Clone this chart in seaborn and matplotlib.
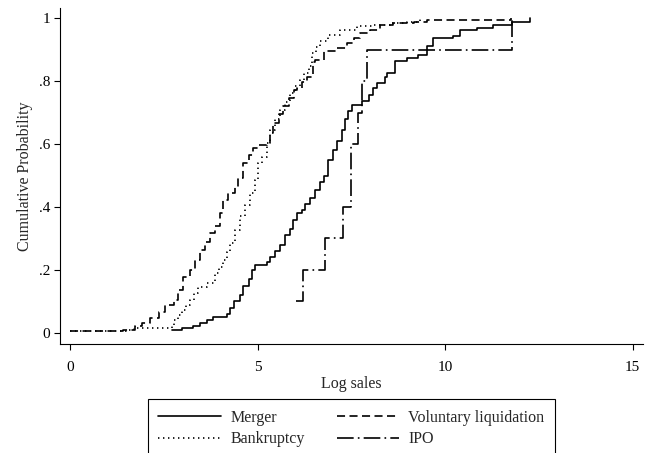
import numpy as np
import pandas as pd
import matplotlib
matplotlib.use("Agg")
import matplotlib.pyplot as plt
import seaborn as sns

merger_x = [2.71, 2.98, 3.29, 3.47, 3.64, 3.82, 4.18, 4.27, 4.36, 4.53, 4.62, 4.76,
            4.84, 4.93, 5.24, 5.33, 5.47, 5.60, 5.73, 5.87, 5.95, 6.04, 6.18, 6.27,
            6.40, 6.53, 6.67, 6.76, 6.89, 7.00, 7.11, 7.24, 7.33, 7.42, 7.51, 7.78,
            7.96, 8.09, 8.18, 8.40, 8.44, 8.67, 8.98, 9.29, 9.51, 9.69, 10.22, 10.40,
            10.84, 11.29, 11.78, 12.27]
merger_y = [0.010, 0.015, 0.020, 0.030, 0.040, 0.050, 0.060, 0.080, 0.100, 0.120, 0.150, 0.170,
            0.200, 0.215, 0.225, 0.240, 0.260, 0.280, 0.310, 0.330, 0.360, 0.380, 0.390, 0.410,
            0.430, 0.455, 0.480, 0.500, 0.550, 0.580, 0.610, 0.646, 0.680, 0.705, 0.725, 0.736,
            0.757, 0.780, 0.794, 0.815, 0.826, 0.863, 0.875, 0.885, 0.911, 0.938, 0.943, 0.964,
            0.969, 0.980, 0.990, 1.000]

volliq_x = [0.00, 1.41, 1.56, 1.73, 1.92, 2.13, 2.36, 2.53, 2.76, 2.89, 3.02, 3.20,
            3.33, 3.47, 3.60, 3.73, 3.87, 4.00, 4.09, 4.22, 4.40, 4.49, 4.62, 4.76,
            4.89, 5.02, 5.24, 5.33, 5.42, 5.56, 5.69, 5.83, 5.96, 6.04, 6.18, 6.31,
            6.49, 6.53, 6.76, 7.11, 7.38, 7.56, 7.73, 8.00, 8.27, 8.62, 9.16, 9.51, 11.75]
volliq_y = [0.005, 0.007, 0.010, 0.020, 0.030, 0.046, 0.067, 0.088, 0.104, 0.136, 0.178, 0.200,
            0.230, 0.263, 0.290, 0.316, 0.338, 0.380, 0.423, 0.444, 0.465, 0.492, 0.539, 0.566,
            0.587, 0.598, 0.603, 0.635, 0.667, 0.695, 0.720, 0.748, 0.773, 0.778, 0.798, 0.815,
            0.860, 0.868, 0.895, 0.906, 0.922, 0.938, 0.954, 0.964, 0.980, 0.985, 0.990, 0.996, 1.000]

bankr_x = [0.00, 1.50, 1.70, 2.71, 2.76, 2.87, 2.98, 3.09, 3.20, 3.31, 3.42, 3.64,
           3.87, 3.98, 4.09, 4.18, 4.27, 4.40, 4.53, 4.67, 4.80, 4.93, 5.02, 5.11,
           5.24, 5.33, 5.47, 5.60, 5.73, 5.87, 6.00, 6.13, 6.25, 6.36, 6.44, 6.56,
           6.67, 6.89, 7.20, 7.64, 8.09, 8.53, 8.98, 9.33]
bankr_y = [0.004, 0.010, 0.014, 0.020, 0.040, 0.056, 0.072, 0.088, 0.104, 0.125, 0.146, 0.157,
           0.189, 0.210, 0.230, 0.258, 0.285, 0.327, 0.370, 0.407, 0.444, 0.486, 0.539, 0.560,
           0.603, 0.646, 0.680, 0.709, 0.735, 0.762, 0.785, 0.805, 0.826, 0.847, 0.890, 0.910,
           0.927, 0.948, 0.964, 0.975, 0.980, 0.985, 0.990, 1.000]

ipo_x = [6.03, 6.20, 6.80, 7.29, 7.48, 7.69, 7.79, 7.93, 11.79]
ipo_y = [0.10, 0.20, 0.30, 0.40, 0.60, 0.70, 0.80, 0.90, 1.00]

labels = ["Merger", "Voluntary liquidation", "Bankruptcy", "IPO"]
x_ticks = [0, 5, 10, 15]
y_ticks = [0, 0.2, 0.4, 0.6, 0.8, 1.0]
y_ticklabels = ["0", ".2", ".4", ".6", ".8", "1"]

# ---- style ----
sns.set_style("ticks")
plt.rcParams["font.family"] = ["Liberation Serif", "DejaVu Serif"]
plt.rcParams["lines.scale_dashes"] = False

fig = plt.figure(figsize=(6.51, 4.53), dpi=100)
ax = fig.add_axes([60 / 651, 1 - 344 / 453, (643 - 60) / 651, (344 - 8) / 453])

series = {
    "Merger": (merger_x, merger_y, "-"),
    "Voluntary liquidation": (volliq_x, volliq_y, (0, (5.8, 3.2))),
    "Bankruptcy": (bankr_x, bankr_y, (0, (1.0, 2.6))),
    "IPO": (ipo_x, ipo_y, (0, (12.0, 3.0, 1.2, 3.0))),
}

handles = {}
for name in labels:
    xs, ys, ls = series[name]
    df = pd.DataFrame({"x": xs, "y": ys})
    sns.lineplot(data=df, x="x", y="y", ax=ax, color="black", linewidth=1.2,
                 linestyle=ls, drawstyle="steps-post", estimator=None, sort=False,
                 label=name, legend=False)
    handles[name] = ax.lines[-1]

ax.set_xlim(-0.267, 15.28)
ax.set_ylim(-0.036, 1.033)
ax.set_xticks(x_ticks)
ax.set_xticklabels([str(t) for t in x_ticks])
ax.set_yticks(y_ticks)
ax.set_yticklabels(y_ticklabels)
ax.tick_params(axis="both", direction="out", length=4, width=0.8, colors="black",
               labelsize=11, pad=3)
ax.tick_params(axis="x", pad=8)
sns.despine(ax=ax)
for s in ["left", "bottom"]:
    ax.spines[s].set_color("black")
    ax.spines[s].set_linewidth(0.8)

ax.set_xlabel("Log sales", fontsize=11.5, labelpad=2)
ax.set_ylabel("Cumulative Probability", fontsize=11.5, labelpad=4.5)

order = ["Merger", "Bankruptcy", "Voluntary liquidation", "IPO"]
leg = fig.legend([handles[n] for n in order], order, ncol=2, loc="upper center",
                 bbox_to_anchor=(351.5 / 651, 1 - 399 / 453), fontsize=11.5,
                 frameon=True, fancybox=False, shadow=False, framealpha=1,
                 edgecolor="black", handlelength=3.9, handletextpad=0.6,
                 columnspacing=2.0, labelspacing=0.35, borderpad=0.68,
                 borderaxespad=0)
leg.get_frame().set_linewidth(0.8)

fig.savefig("out.png", dpi=100)
